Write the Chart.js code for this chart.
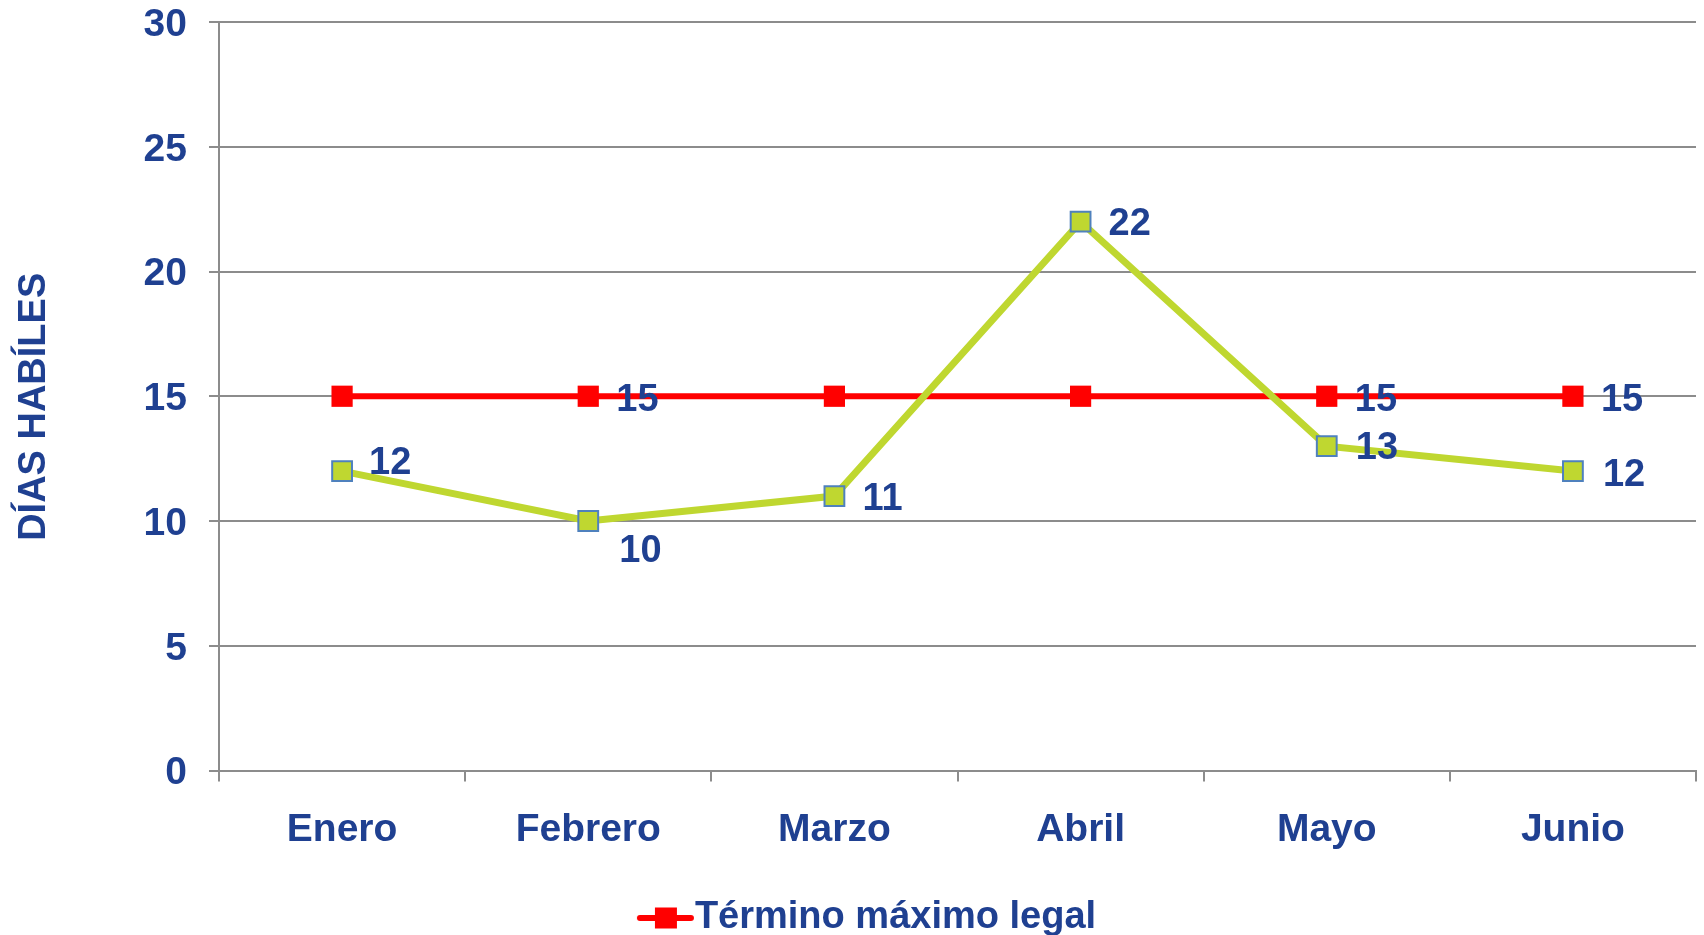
<!DOCTYPE html>
<html><head><meta charset="utf-8">
<script src="https://cdn.jsdelivr.net/npm/chart.js@4.4.1/dist/chart.umd.min.js"></script>
<style>html,body{margin:0;padding:0;background:#fff;overflow:hidden;}</style>
</head><body>
<canvas id="c" width="1704" height="947"></canvas>
<script>
// ---- data ----
const categories = ['Enero', 'Febrero', 'Marzo', 'Abril', 'Mayo', 'Junio'];
const diasHabiles = [12, 10, 11, 22, 13, 12];
const terminoMaximo = [15, 15, 15, 15, 15, 15];
const seriesNames = ['Días hábiles', 'Término máximo legal'];
const yAxisTitle = 'DÍAS HABÍLES  ';
const yMin = 0, yMax = 30, yStep = 5;
// which data labels are visible
const showGreenLabels = [true, true, true, true, true, true];
const showRedLabels = [false, true, false, false, true, true];

// ---- styles ----
const TEXT = '#1f4091';
const GRID = '#8c8c8c';
const RED = '#ff0000';
const GREEN = '#bfd730';
const FAMILY = '"Liberation Sans", Arial, sans-serif';
const FONT = {family: FAMILY, size: 38, weight: 'bold'};
const TICK_FONT = {family: FAMILY, size: 39, weight: 'bold'};
const greenLabelOffsets = [[27, -8], [31, 31], [28, 3], [28, 3], [29, 2], [30, 4]];
const redLabelOffsets = [[28, 4], [28, 4], [28, 4], [28, 4], [28, 4], [28, 4]];

// legend marker (line + square), drawn in the right part of a wider canvas
const lg = document.createElement('canvas');
lg.width = 116; lg.height = 24;
(function () {
  const g = lg.getContext('2d');
  g.strokeStyle = RED;
  g.lineWidth = 6;
  g.lineCap = 'round';
  g.beginPath(); g.moveTo(60, 12); g.lineTo(111, 12); g.stroke();
  g.fillStyle = RED;
  g.fillRect(75, 1.5, 22, 21);
})();

const labelPlugin = {
  id: 'pointLabels',
  afterDatasetsDraw(chart) {
    const ctx = chart.ctx;
    ctx.save();
    ctx.font = `${FONT.weight} ${FONT.size}px ${FONT.family}`;
    ctx.fillStyle = TEXT;
    ctx.textAlign = 'left';
    ctx.textBaseline = 'middle';
    chart.data.datasets.forEach((ds, di) => {
      const meta = chart.getDatasetMeta(di);
      meta.data.forEach((pt, i) => {
        if (!ds.showLabels[i]) return;
        const [dx, dy] = ds.labelOffsets[i];
        ctx.fillText(String(ds.data[i]), pt.x + dx, pt.y + dy);
      });
    });
    ctx.restore();
  }
};

new Chart(document.getElementById('c'), {
  type: 'line',
  data: {
    labels: categories,
    datasets: [
      {
        label: seriesNames[0],
        data: diasHabiles,
        borderColor: GREEN,
        borderWidth: 7,
        backgroundColor: GREEN,
        pointStyle: 'rect',
        pointRadius: 14,
        pointHoverRadius: 14,
        pointBackgroundColor: GREEN,
        pointBorderColor: '#4f81bd',
        pointBorderWidth: 2,
        tension: 0,
        order: 0,
        clip: false,
        showLabels: showGreenLabels,
        labelOffsets: greenLabelOffsets
      },
      {
        label: seriesNames[1],
        data: terminoMaximo,
        borderColor: RED,
        borderWidth: 6,
        backgroundColor: RED,
        pointStyle: 'rect',
        pointRadius: 15,
        pointHoverRadius: 15,
        pointBackgroundColor: RED,
        pointBorderColor: RED,
        pointBorderWidth: 0,
        tension: 0,
        order: 1,
        clip: false,
        showLabels: showRedLabels,
        labelOffsets: redLabelOffsets
      }
    ]
  },
  options: {
    responsive: false,
    animation: false,
    devicePixelRatio: 1,
    layout: {autoPadding: false, padding: {left: 0, right: 8, top: 0, bottom: 0}},
    plugins: {
      tooltip: {enabled: false},
      legend: {
        position: 'bottom',
        labels: {
          usePointStyle: true,
          pointStyle: lg,
          pointStyleWidth: 76,
          color: TEXT,
          font: FONT,
          padding: 4,
          filter: (item) => item.datasetIndex === 1
        }
      }
    },
    scales: {
      x: {
        offset: true,
        grid: {offset: true, drawOnChartArea: false, drawTicks: true, tickLength: 11, color: GRID, lineWidth: 2},
        border: {color: GRID, width: 2},
        ticks: {color: TEXT, font: TICK_FONT, padding: 25, maxRotation: 0},
        afterFit(s) { s.height = 124.5; s.paddingLeft = 0; s.paddingRight = 0; }
      },
      y: {
        min: yMin, max: yMax,
        ticks: {stepSize: yStep, color: TEXT, font: TICK_FONT, padding: 22, labelOffset: 3},
        grid: {color: GRID, lineWidth: 2, tickLength: 10, drawTicks: true},
        border: {color: GRID, width: 2},
        title: {display: true, text: yAxisTitle, color: TEXT, font: FONT, padding: {top: 12, bottom: 0}},
        afterFit(s) { s.width = 219; s.paddingTop = 22; s.paddingBottom = 0; }
      }
    }
  },
  plugins: [labelPlugin]
});
</script>
</body></html>
